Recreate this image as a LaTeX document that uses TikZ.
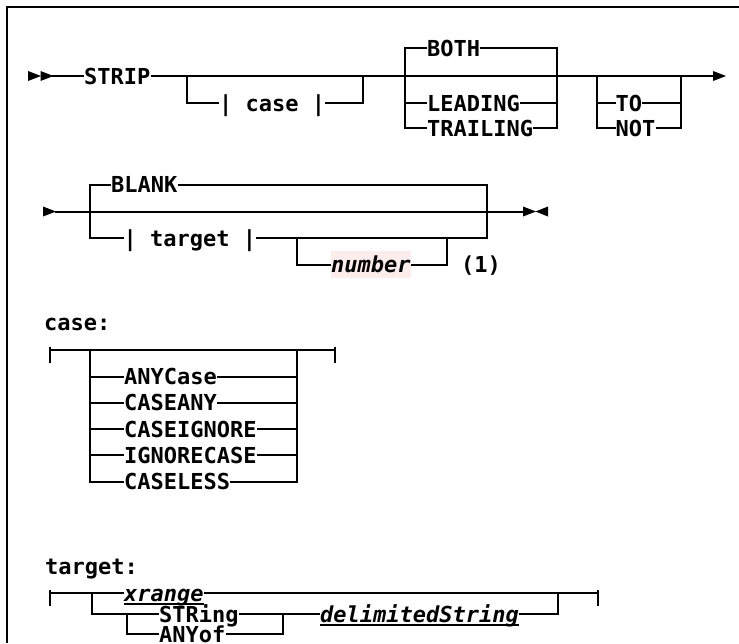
\documentclass[tikz,border=0pt]{standalone}
\usepackage{fontspec}
\newfontfamily\railfont{DejaVu Sans Mono}[
  BoldFont={DejaVu Sans Mono Bold},
  ItalicFont={DejaVu Sans Mono Oblique},
  BoldItalicFont={DejaVu Sans Mono Bold Oblique}]
\usetikzlibrary{arrows.meta}

\definecolor{numbg}{RGB}{253,236,236}

\tikzset{
  rail/.style={line width=2pt},
  kw/.style={font=\railfont\bfseries\fontsize{22}{26}\selectfont,
    inner sep=0pt, text height=16pt, text depth=0pt, anchor=west},
  var/.style={kw, font=\railfont\bfseries\itshape\fontsize{22}{26}\selectfont},
  hl/.style={fill=numbg, inner ysep=5.5pt}
}

\begin{document}
\begin{tikzpicture}[x=1pt,y=-1pt,>=Latex]

\useasboundingbox (0,0) rectangle (739,643);

% Frame
\draw[line width=2pt] (6.5,643) -- (6.5,6.5) -- (739,6.5);

% Arrow tips
\foreach \x/\y in {28/76, 40.5/76, 713/76, 43/211.5, 523/211.5}
    \fill (\x,\y-5) -- (\x+13,\y) -- (\x,\y+5) -- cycle;
\fill (548,206.5) -- (535.5,211.5) -- (548,216.5) -- cycle;

% First line
\node[kw] (strip) at (84,76) {STRIP};
\node[kw] (case) at (219,103) {| case |};
\node[kw] (both) at (427,48) {BOTH};
\node[kw] (leading) at (427,103) {LEADING};
\node[kw] (trailing) at (427,128) {TRAILING};
\node[kw] (to) at (615.5,103) {TO};
\node[kw] (not) at (615.5,128) {NOT};

\coordinate (in1) at (52,76);
\coordinate (out1) at (713,76);
\coordinate (c1) at (187,76);
\coordinate (c2) at (363,76);
\coordinate (b1) at (405,76);
\coordinate (b2) at (557,76);
\coordinate (o1) at (597,76);
\coordinate (o2) at (681,76);

\draw[rail] (in1) -- (strip.west);
\draw[rail] (strip.east) -- (out1);
\draw[rail] (c1) |- (case.west);
\draw[rail] (case.east) -| (c2);
\foreach \n in {both,leading,trailing}{
    \draw[rail] (b1) |- (\n.west);
    \draw[rail] (\n.east) -| (b2);
}
\foreach \n in {to,not}{
    \draw[rail] (o1) |- (\n.west);
    \draw[rail] (\n.east) -| (o2);
}

% Second line
\node[kw] (blank) at (111,184.5) {BLANK};
\node[kw] (target) at (123.5,238) {| target |};
\node[var,hl] (number) at (331,264.5) {number};
\node[kw] (note) at (461,264.5) {(1)};

\coordinate (in2) at (55,211.5);
\coordinate (out2) at (523,211.5);
\coordinate (k1) at (90,211.5);
\coordinate (k2) at (487,211.5);
\coordinate (n1) at (297,238);
\coordinate (n2) at (447,238);

\draw[rail] (in2) -- (out2);
\foreach \n in {blank,target}{
    \draw[rail] (k1) |- (\n.west);
    \draw[rail] (\n.east) -| (k2);
}
\draw[rail] (n1) |- (number.west);
\draw[rail] (number.east) -| (n2);

% case:
\node[kw] (casehd) at (44,322) {case:};
\coordinate (cl) at (50,349.5);
\coordinate (cr) at (335,349.5);
\coordinate (a1) at (90,349.5);
\coordinate (a2) at (297,349.5);

\draw[rail] (cl) -- (cr);
\foreach \p in {cl,cr}
    \draw[rail] ([yshift=3pt]\p) -- ([yshift=-13pt]\p);
\foreach \n/\txt/\y in {anycase/ANYCase/376.5, caseany/CASEANY/402.8,
        caseignore/CASEIGNORE/429.1, ignorecase/IGNORECASE/455.4,
        caseless/CASELESS/481.7}{
    \node[kw] (\n) at (124,\y) {\txt};
    \draw[rail] (a1) |- (\n.west);
    \draw[rail] (\n.east) -| (a2);
}

% target:
\node[kw] (targethd) at (45,566) {target:};
\node[var] (xrange) at (124,593) {xrange};
\node[kw] (string) at (159,614) {STRing};
\node[kw] (anyof) at (159,634) {ANYof};
\node[var] (delim) at (320,614) {delimitedString};

\coordinate (tl) at (49.5,593);
\coordinate (tr) at (597.5,593);
\coordinate (t1) at (92,593);
\coordinate (t2) at (558,593);
\coordinate (s1) at (127,614);
\coordinate (s2) at (283,614);

\draw[rail] (tl) -- (xrange.west);
\draw[rail] (xrange.east) -- (tr);
\foreach \p in {tl,tr}
    \draw[rail] ([yshift=3pt]\p) -- ([yshift=-13pt]\p);
\draw[rail] (t1) |- (string.west);
\draw[rail] (s1) |- (anyof.west);
\draw[rail] (anyof.east) -| (s2);
\draw[rail] (string.east) -- (delim.west);
\draw[rail] (delim.east) -| (t2);

% Underlines
\foreach \n in {xrange,delim}
    \draw[line width=1.4pt] ([yshift=-3pt]\n.base west) -- ([yshift=-3pt]\n.base east);

\end{tikzpicture}
\end{document}
